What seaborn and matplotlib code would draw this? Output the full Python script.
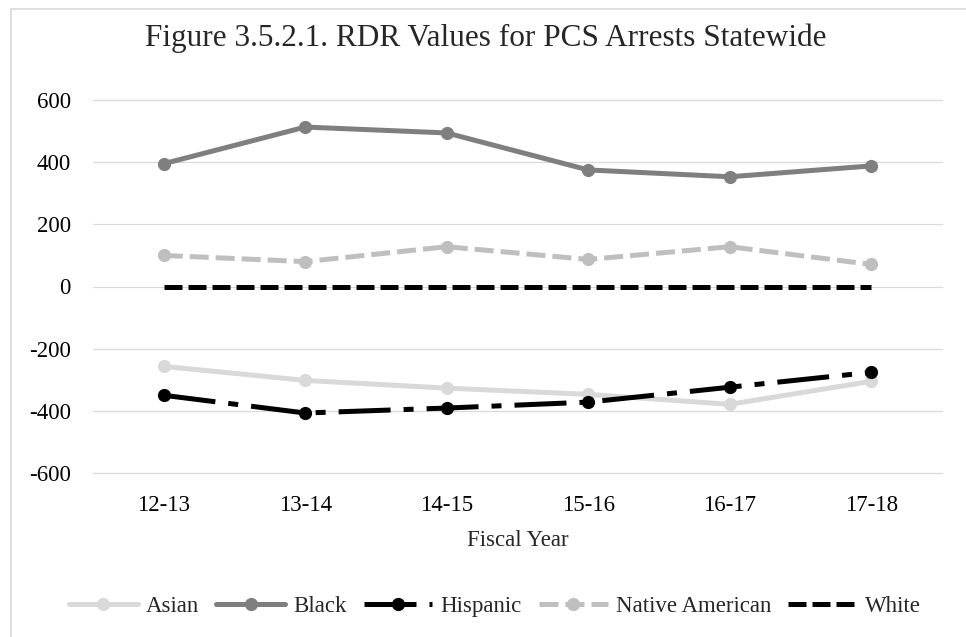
import matplotlib
matplotlib.use("Agg")
import matplotlib.pyplot as plt
import seaborn as sns
import pandas as pd
from matplotlib.lines import Line2D
from matplotlib.patches import Rectangle

# Fiscal years and RDR values per group
years = ["12-13", "13-14", "14-15", "15-16", "16-17", "17-18"]
asian = [-257, -302, -327, -347, -379, -305]
black = [395, 513, 494, 375, 353, 388]
hispanic = [-350, -407, -391, -372, -324, -276]
native_american = [100, 80, 128, 87, 128, 71]
white = [0, 0, 0, 0, 0, 0]

groups = ["Asian", "Black", "Hispanic", "Native American", "White"]
series = [asian, black, hispanic, native_american, white]

df = pd.DataFrame(
    [(y, g, v) for g, vals in zip(groups, series) for y, v in zip(years, vals)],
    columns=["Fiscal Year", "Group", "RDR"],
)

colors = {
    "Asian": "#d9d9d9",
    "Black": "#7f7f7f",
    "Hispanic": "#000000",
    "Native American": "#bfbfbf",
    "White": "#000000",
}
dashes = {
    "Asian": None,
    "Black": None,
    "Hispanic": (10.4, 2.6, 2.0, 2.6),
    "Native American": (3.8, 1.4),
    "White": (3.6, 1.2),
}
markers = {
    "Asian": "o",
    "Black": "o",
    "Hispanic": "o",
    "Native American": "o",
    "White": None,
}

sns.set_style("white")
plt.rcParams["font.family"] = ["Liberation Serif", "DejaVu Serif"]
plt.rcParams["axes.unicode_minus"] = False

LW = 3.6
MS = 9.5
FS = 16.5
fig = plt.figure(figsize=(9.66, 6.37), dpi=100)
ax = fig.add_axes([93 / 966, 1 - 473 / 637, (942 - 93) / 966, (473 - 100) / 637])

for i, g in enumerate(groups):
    sub = df[df["Group"] == g]
    kw = dict(color=colors[g], linewidth=LW, sort=False, ax=ax, zorder=3 + i)
    if markers[g]:
        kw.update(marker=markers[g], markersize=MS, markeredgewidth=0)
    sns.lineplot(data=sub, x="Fiscal Year", y="RDR", **kw)
    if dashes[g]:
        ax.lines[-1].set_dashes(dashes[g])

ax.set_ylim(-600, 600)
ax.set_xlim(-0.5, len(years) - 0.5)
ax.set_yticks(range(-600, 601, 200))
ax.yaxis.grid(True, color="#d9d9d9", linewidth=0.9)
for gl in ax.get_ygridlines():
    gl.set_clip_on(False)
ax.xaxis.grid(False)
for s in ax.spines.values():
    s.set_visible(False)
ax.tick_params(axis="both", length=0, labelsize=FS, colors="#000000")
ax.tick_params(axis="y", pad=16)
ax.tick_params(axis="x", pad=16)
ax.set_ylabel("")
ax.set_xlabel("Fiscal Year", fontsize=FS, labelpad=10)

fig.suptitle("Figure 3.5.2.1. RDR Values for PCS Arrests Statewide",
             x=486 / 966, y=1 - 38 / 637, va="center", fontsize=22.5)

# Chart-area frame
fig.patches.append(Rectangle((11 / 966, -0.02), 1.2, 1 - 9 / 637 + 0.02,
                             transform=fig.transFigure, fill=False,
                             edgecolor="#d9d9d9", linewidth=1.2))

handles = []
for g in groups:
    kw = dict(color=colors[g], linewidth=LW)
    if markers[g]:
        kw.update(marker=markers[g], markersize=MS, markeredgewidth=0)
    h = Line2D([], [], **kw)
    if dashes[g]:
        h.set_dashes(dashes[g])
    handles.append(h)

fig.legend(handles, groups, loc="center", bbox_to_anchor=(495 / 966, 1 - 606 / 637),
           ncol=5, frameon=False, fontsize=FS, handlelength=3.0,
           handletextpad=0.35, columnspacing=0.75)

fig.savefig("out.png", dpi=100, facecolor="white")
